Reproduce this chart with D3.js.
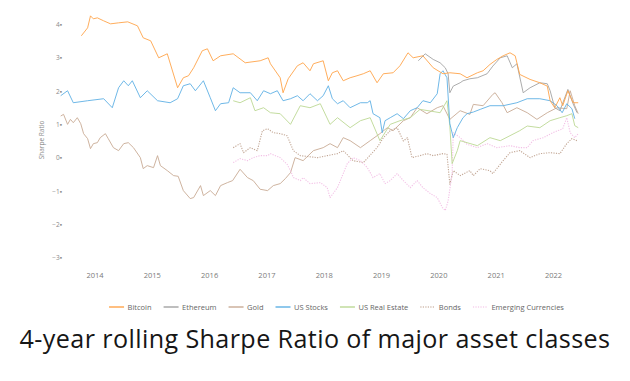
<!DOCTYPE html>
<html><head><meta charset="utf-8">
<script src="https://cdn.jsdelivr.net/npm/d3@7/dist/d3.min.js"></script>
<style>
html,body{margin:0;padding:0;background:#fff;}
svg{display:block;}
</style></head>
<body>
<svg id="chart" width="630" height="381"></svg>
<script>
const yTicks = [-3,-2,-1,0,1,2,3,4];
const xTicks = [2014,2015,2016,2017,2018,2019,2020,2021,2022];
const seriesNames = ["Bitcoin","Ethereum","Gold","US Stocks","US Real Estate","Bonds","Emerging Currencies"];
const titleText = "4-year rolling Sharpe Ratio of major asset classes";
const yLabel = "Sharpe Ratio";

const bitcoin = [[2013.77,3.66],[2013.88,3.90],[2013.93,4.26],[2013.98,4.17],[2014.05,4.20],[2014.16,4.11],[2014.28,4.02],[2014.42,4.05],[2014.58,4.08],[2014.75,3.96],[2014.85,3.60],[2014.98,3.51],[2015.12,3.00],[2015.27,3.12],[2015.45,2.10],[2015.55,2.40],[2015.64,2.46],[2015.73,2.70],[2015.88,3.21],[2015.97,3.27],[2016.07,2.91],[2016.20,3.06],[2016.42,3.12],[2016.63,2.85],[2016.89,2.91],[2017.03,3.00],[2017.07,2.82],[2017.24,2.40],[2017.29,1.95],[2017.38,2.37],[2017.54,2.76],[2017.64,2.85],[2017.76,2.61],[2017.82,2.82],[2017.99,2.91],[2018.08,2.31],[2018.15,2.55],[2018.24,2.61],[2018.34,2.31],[2018.46,2.40],[2018.58,2.46],[2018.69,2.52],[2018.81,2.61],[2018.93,2.25],[2019.04,2.52],[2019.21,2.55],[2019.33,2.76],[2019.47,3.15],[2019.56,3.00],[2019.73,3.06],[2019.91,2.70],[2020.08,2.52],[2020.20,2.55],[2020.38,2.52],[2020.50,2.40],[2020.68,2.55],[2020.78,2.61],[2020.90,2.80],[2021.02,2.95],[2021.13,3.06],[2021.25,3.15],[2021.34,3.06],[2021.42,2.50],[2021.60,2.35],[2021.77,2.25],[2021.90,2.15],[2021.95,1.71],[2022.03,1.50],[2022.12,1.80],[2022.17,1.56],[2022.26,2.01],[2022.35,1.65],[2022.44,1.65]];
const ethereum = [[2019.65,2.91],[2019.77,3.12],[2019.91,2.95],[2020.03,2.85],[2020.12,2.70],[2020.17,2.52],[2020.20,1.95],[2020.26,2.15],[2020.38,2.25],[2020.43,2.31],[2020.55,2.37],[2020.68,2.40],[2020.85,2.52],[2020.95,2.75],[2021.08,3.00],[2021.20,3.06],[2021.29,2.70],[2021.37,2.82],[2021.48,1.95],[2021.60,2.10],[2021.77,2.25],[2021.90,2.22],[2021.95,2.01],[2022.03,1.50],[2022.12,1.41],[2022.26,2.05],[2022.35,1.62],[2022.42,1.35]];
const gold = [[2013.41,1.25],[2013.46,1.30],[2013.53,1.00],[2013.58,1.15],[2013.63,1.05],[2013.70,1.20],[2013.76,1.02],[2013.81,0.72],[2013.88,0.57],[2013.93,0.27],[2013.98,0.42],[2014.05,0.45],[2014.10,0.60],[2014.19,0.72],[2014.24,0.57],[2014.33,0.30],[2014.42,0.21],[2014.51,0.42],[2014.59,0.45],[2014.68,0.30],[2014.80,0.00],[2014.85,-0.33],[2014.92,-0.24],[2015.03,-0.30],[2015.10,0.06],[2015.15,-0.24],[2015.27,-0.39],[2015.38,-0.54],[2015.46,-0.56],[2015.55,-0.99],[2015.67,-1.23],[2015.73,-1.20],[2015.85,-0.84],[2015.90,-1.14],[2016.02,-0.99],[2016.11,-1.14],[2016.20,-0.84],[2016.32,-0.75],[2016.41,-0.69],[2016.54,-0.35],[2016.67,-0.60],[2016.77,-0.69],[2016.89,-0.95],[2017.02,-0.99],[2017.12,-0.84],[2017.24,-0.78],[2017.33,-0.63],[2017.42,-0.45],[2017.50,0.00],[2017.64,-0.09],[2017.82,0.21],[2017.99,0.30],[2018.11,0.42],[2018.24,0.30],[2018.34,0.60],[2018.46,0.51],[2018.64,0.30],[2018.81,0.51],[2018.98,0.72],[2019.11,0.90],[2019.21,0.81],[2019.39,1.11],[2019.51,1.20],[2019.63,1.50],[2019.80,1.32],[2019.98,1.50],[2020.08,1.56],[2020.20,1.15],[2020.38,1.41],[2020.55,1.30],[2020.61,1.60],[2020.78,1.56],[2020.95,1.90],[2020.99,1.95],[2021.11,1.65],[2021.20,1.35],[2021.37,1.50],[2021.55,1.35],[2021.72,1.15],[2021.90,1.35],[2022.07,1.50],[2022.24,1.47],[2022.30,2.01],[2022.38,1.56],[2022.44,1.32]];
const usStocks = [[2013.41,1.86],[2013.53,2.01],[2013.63,1.65],[2013.88,1.71],[2014.16,1.77],[2014.31,1.50],[2014.42,2.10],[2014.51,2.31],[2014.59,2.16],[2014.66,2.31],[2014.80,1.80],[2014.92,2.01],[2015.10,1.71],[2015.32,1.65],[2015.45,1.77],[2015.55,2.16],[2015.67,2.22],[2015.76,2.01],[2015.90,2.31],[2016.02,1.80],[2016.11,1.41],[2016.20,1.62],[2016.34,1.65],[2016.42,2.10],[2016.54,1.95],[2016.72,1.95],[2016.84,1.71],[2016.95,2.01],[2017.07,1.92],[2017.19,2.01],[2017.29,1.71],[2017.42,1.77],[2017.54,1.86],[2017.64,1.71],[2017.76,1.92],[2017.89,1.71],[2017.99,1.86],[2018.08,2.16],[2018.15,1.77],[2018.24,1.62],[2018.34,1.71],[2018.46,1.50],[2018.64,1.65],[2018.76,1.65],[2018.81,1.71],[2018.86,1.32],[2018.98,1.20],[2019.02,0.75],[2019.07,1.11],[2019.16,1.20],[2019.28,1.32],[2019.39,1.17],[2019.51,1.41],[2019.63,1.50],[2019.73,1.71],[2019.86,1.65],[2019.98,1.92],[2020.03,2.52],[2020.08,2.61],[2020.15,2.40],[2020.20,1.02],[2020.26,0.60],[2020.33,0.90],[2020.43,1.20],[2020.50,1.32],[2020.61,1.37],[2020.73,1.45],[2020.90,1.56],[2021.13,1.56],[2021.37,1.65],[2021.55,1.77],[2021.77,1.77],[2021.95,1.71],[2022.07,1.56],[2022.16,1.35],[2022.24,1.62],[2022.33,1.47],[2022.38,1.17]];
const usRealEstate = [[2016.42,1.71],[2016.54,1.65],[2016.72,1.80],[2016.80,1.41],[2016.95,1.50],[2017.07,1.35],[2017.24,1.32],[2017.42,1.00],[2017.59,1.56],[2017.76,1.50],[2017.94,1.62],[2018.11,1.00],[2018.24,1.20],[2018.46,0.90],[2018.64,1.11],[2018.81,1.20],[2018.98,0.51],[2019.16,1.00],[2019.33,1.11],[2019.51,1.20],[2019.68,1.45],[2019.86,1.40],[2020.03,1.35],[2020.15,1.71],[2020.20,0.96],[2020.24,-0.18],[2020.33,0.21],[2020.38,0.51],[2020.50,0.45],[2020.68,0.36],[2020.90,0.60],[2021.08,0.51],[2021.25,0.66],[2021.42,0.81],[2021.55,0.95],[2021.77,0.90],[2021.95,1.11],[2022.12,1.20],[2022.24,1.26],[2022.33,1.32],[2022.38,0.96],[2022.44,0.90]];
const bonds = [[2016.42,0.30],[2016.54,0.42],[2016.60,0.15],[2016.72,0.30],[2016.84,0.21],[2016.93,0.81],[2017.02,0.87],[2017.12,0.75],[2017.24,0.72],[2017.36,0.66],[2017.47,0.21],[2017.59,0.06],[2017.89,0.00],[2018.06,0.06],[2018.24,0.12],[2018.34,0.21],[2018.51,-0.09],[2018.69,-0.15],[2018.93,0.30],[2019.04,0.60],[2019.16,0.81],[2019.28,0.90],[2019.39,0.50],[2019.46,0.60],[2019.54,0.00],[2019.68,0.06],[2019.80,0.12],[2019.91,0.06],[2020.08,0.12],[2020.15,0.10],[2020.20,-0.80],[2020.26,-0.39],[2020.38,-0.54],[2020.55,-0.39],[2020.61,-0.54],[2020.73,-0.33],[2020.90,-0.39],[2020.95,-0.48],[2021.13,-0.09],[2021.25,0.15],[2021.42,0.21],[2021.60,0.00],[2021.77,0.12],[2021.95,0.15],[2022.12,0.12],[2022.24,0.42],[2022.33,0.57],[2022.42,0.51]];
const emergingCurrencies = [[2016.42,-0.15],[2016.54,-0.03],[2016.67,-0.09],[2016.77,0.00],[2016.89,0.06],[2017.02,0.06],[2017.07,0.12],[2017.24,0.00],[2017.36,-0.20],[2017.42,-0.39],[2017.47,-0.60],[2017.59,-0.69],[2017.64,-0.60],[2017.76,-0.78],[2017.94,-0.75],[2018.06,-0.90],[2018.11,-1.20],[2018.24,-0.90],[2018.41,-0.18],[2018.51,0.00],[2018.64,-0.09],[2018.76,-0.30],[2018.86,-0.60],[2018.98,-0.48],[2019.07,-0.78],[2019.16,-0.69],[2019.28,-0.48],[2019.39,-0.69],[2019.51,-0.90],[2019.63,-0.69],[2019.73,-0.90],[2019.86,-1.08],[2019.98,-1.20],[2020.07,-1.50],[2020.12,-1.59],[2020.17,-1.30],[2020.24,-0.48],[2020.26,0.75],[2020.38,0.60],[2020.50,0.40],[2020.68,0.30],[2020.85,0.42],[2021.02,0.30],[2021.25,0.36],[2021.42,0.30],[2021.55,0.30],[2021.65,0.51],[2021.83,0.60],[2022.00,0.75],[2022.17,0.87],[2022.24,1.20],[2022.30,0.75],[2022.38,0.60],[2022.44,0.72]];

const seriesValues = [bitcoin, ethereum, gold, usStocks, usRealEstate, bonds, emergingCurrencies];
const seriesColors = ["#ffa44a","#a3a3a3","#c9ab95","#5fb0e4","#bcd895","#bb9c88","#f2b9e3"];
const seriesDashed = [false,false,false,false,false,true,true];

const svg = d3.select("#chart");
const x = d3.scaleLinear().domain([2014, 2022]).range([94.5, 553]);
const y = d3.scaleLinear().domain([-3, 4]).range([257.5, 24.5]);

// y axis
const yAxis = d3.axisLeft(y).tickValues(yTicks).tickSize(0).tickPadding(0)
  .tickFormat(d => (d < 0 ? "\u2212" + Math.abs(d) : String(d)) + "\u25AA");
svg.append("g").attr("transform","translate(62,0)").call(yAxis)
  .call(g => g.select(".domain").remove())
  .selectAll("text").attr("font-family","Open Sans, sans-serif").attr("font-size","6.5px").attr("fill","#8a8a8a");

// x axis
const xAxis = d3.axisBottom(x).tickValues(xTicks).tickSize(0).tickPadding(0).tickFormat(d3.format("d"));
svg.append("g").attr("transform","translate(0,273)").call(xAxis)
  .call(g => g.select(".domain").remove())
  .selectAll("text").attr("font-family","Open Sans, sans-serif").attr("font-size","7.5px").attr("fill","#7a7a7a");

// y label
svg.append("text").attr("transform","translate(44,140) rotate(-90)")
  .attr("text-anchor","middle").attr("font-family","Open Sans, sans-serif")
  .attr("font-size","6.5px").attr("fill","#888").text(yLabel);

// lines
const line = d3.line().x(d => x(d[0])).y(d => y(d[1]));
const order = [2,5,6,4,3,1,0];
order.forEach(i => {
  svg.append("path").datum(seriesValues[i])
    .attr("d", line).attr("fill","none")
    .attr("stroke", seriesColors[i]).attr("stroke-width", seriesDashed[i] ? 1.1 : 1)
    .attr("stroke-opacity", 0.9)
    .attr("stroke-dasharray", seriesDashed[i] ? "1.2,1.3" : null)
    .attr("stroke-linejoin","round");
});

// legend
const leg = svg.append("g");
let lx = 0;
seriesNames.forEach((name, i) => {
  const g = leg.append("g").attr("transform", `translate(${lx},0)`);
  g.append("line").attr("x1",0).attr("x2",15).attr("y1",0).attr("y2",0)
    .attr("stroke", seriesColors[i]).attr("stroke-width", seriesDashed[i] ? 1.1 : 1.4)
    .attr("stroke-dasharray", seriesDashed[i] ? "1.2,1.3" : null);
  const t = g.append("text").attr("x",18.5).attr("y",2.6)
    .attr("font-family","Open Sans, sans-serif").attr("font-size","7.5px").attr("fill","#666").text(name);
  lx += 18.5 + t.node().getComputedTextLength() + 12;
});
lx -= 12;
leg.attr("transform", `translate(${(148 + 525)/2 - lx/2},307)`);

// title
const title = svg.append("text").attr("x",315).attr("y",348).attr("text-anchor","middle")
  .attr("font-family","Open Sans, sans-serif").attr("font-size","22px").attr("fill","#161616")
  .attr("letter-spacing","0.4px").text(titleText);
const tl = title.node().getComputedTextLength();
title.attr("font-size", (22 * 594 / tl).toFixed(2) + "px");
</script>
</body></html>
